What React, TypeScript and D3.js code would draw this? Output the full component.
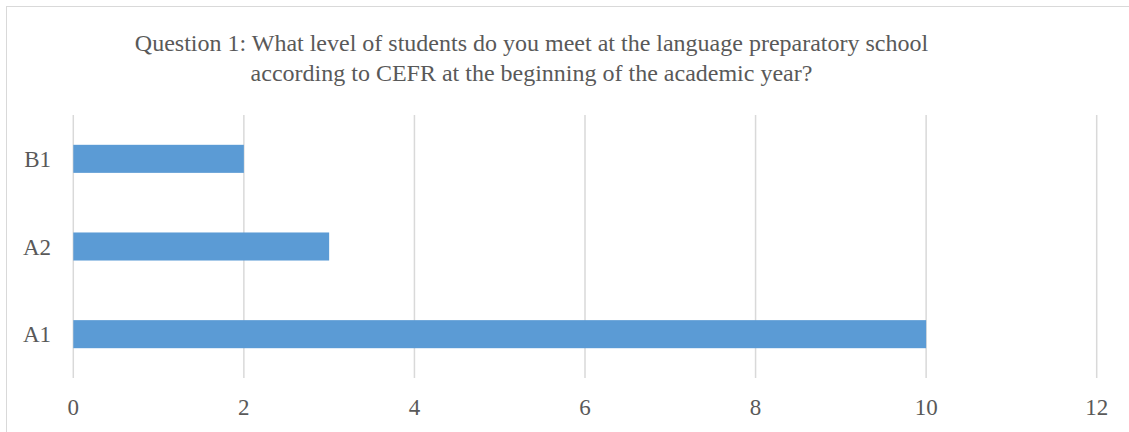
import React from "react";
import * as d3 from "d3";

const categories = ["A1", "A2", "B1"];
const values = [10, 3, 2];
const xTicks = [0, 2, 4, 6, 8, 10, 12];
const titleLines = [
  "Question 1: What level of students do you meet at the language preparatory school",
  "according to CEFR at the beginning of the academic year?",
];

const W = 1129;
const H = 432;
const FONT = "'Liberation Serif', 'Times New Roman', serif";
const TEXT = "#595959";

export default function App() {
  const x = d3.scaleLinear().domain([0, 12]).range([73.3, 1096.7]);
  const y = d3
    .scaleBand<string>()
    .domain([...categories].reverse())
    .range([115, 378])
    .paddingInner(0)
    .paddingOuter(0);
  const barH = y.bandwidth() * 0.32;

  return (
    <svg
      width={W}
      height={H}
      style={{ position: "absolute", left: 0, top: 0, background: "#fff" }}
    >
      <rect x={6.5} y={6.5} width={W + 20} height={H + 20} fill="#fff" stroke="#d9d9d9" strokeWidth={1} />
      {titleLines.map((t, i) => (
        <text
          key={i}
          x={531.5}
          y={51 + i * 30}
          textAnchor="middle"
          fontFamily={FONT}
          fontSize={24}
          fill={TEXT}
        >
          {t}
        </text>
      ))}
      {xTicks.map((t) => (
        <line
          key={t}
          x1={x(t)}
          x2={x(t)}
          y1={115}
          y2={378}
          stroke="#d9d9d9"
          strokeWidth={1.5}
        />
      ))}
      {categories.map((c, i) => (
        <rect
          key={c}
          x={x(0)}
          y={(y(c) as number) + (y.bandwidth() - barH) / 2}
          width={x(values[i]) - x(0)}
          height={barH}
          fill="#5b9bd5"
        />
      ))}
      {categories.map((c) => (
        <text
          key={c}
          x={51}
          y={(y(c) as number) + y.bandwidth() / 2 + 8}
          textAnchor="end"
          fontFamily={FONT}
          fontSize={23}
          fill={TEXT}
        >
          {c}
        </text>
      ))}
      {xTicks.map((t) => (
        <text
          key={t}
          x={x(t)}
          y={415}
          textAnchor="middle"
          fontFamily={FONT}
          fontSize={23}
          fill={TEXT}
        >
          {t}
        </text>
      ))}
    </svg>
  );
}
